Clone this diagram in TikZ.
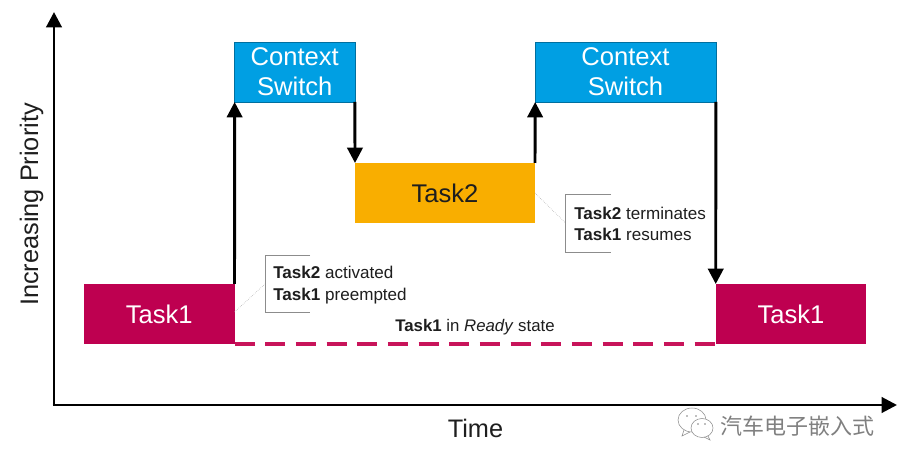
\documentclass[tikz,border=0pt]{standalone}
\usepackage{fontspec}
\setmainfont{Liberation Sans}
\newfontfamily\cjkwm{Noto Sans CJK SC}
\usetikzlibrary{arrows.meta}
\definecolor{taskred}{HTML}{BE0050}
\definecolor{dashred}{HTML}{C8145A}
\definecolor{switchblue}{HTML}{009FE3}
\definecolor{taskorange}{HTML}{F9AE00}
\definecolor{textdark}{HTML}{1E1E1E}
\tikzset{
  box/.style={fill=#1,minimum height=45pt,inner sep=0pt,outer sep=0pt,align=center,font=\fontsize{19.2}{22.5}\selectfont},
  taskbox/.style={box=taskred,text=white,minimum width=112.9pt},
  switchbox/.style={box=switchblue,text=white,draw=switchblue!70!black,line width=0.3pt},
  flow/.style={line width=2.2pt,-{Triangle[length=11.5pt,width=11.5pt]}},
  axis/.style={line width=2.2pt,-{Triangle[length=11.5pt,width=11.5pt]}},
  note/.style={font=\fontsize{12.8}{15.9}\selectfont,align=left,anchor=west,inner sep=0pt,text=textdark},
  bracket/.style={draw=black!45,line width=0.7pt},
  leader/.style={draw=black!35,line width=0.4pt,densely dotted},
  axislabel/.style={font=\fontsize{19}{22}\selectfont,text=textdark}
}
\begin{document}
\begin{tikzpicture}[x=0.75pt,y=-0.75pt]
\useasboundingbox (0,0) rectangle (903,466);
\fill[white] (0,0) rectangle (903,466);

% axes
\coordinate (origin) at (54,405);
\coordinate (ytip) at (54,12);
\coordinate (xtip) at (897,405);
\draw[axis] (origin) -- (ytip);
\draw[axis] ([xshift=-1pt]origin) -- (xtip);
\node[axislabel,rotate=90] (ylab) at (31.5,204.5) {Increasing Priority};
\node[axislabel] (xlab) at (475.5,428) {Time};

% activity boxes
\node[taskbox] (t1) at (159.25,314) {Task1};
\node[switchbox,minimum width=90.2pt] (cs1) at (294.75,72) {Context\\Switch};
\node[box=taskorange,text=textdark,minimum width=135pt] (t2) at (445,193) {Task2};
\node[switchbox,minimum width=135.5pt] (cs2) at (625.5,72) {Context\\Switch};
\node[taskbox] (t3) at (791,314) {Task1};

% transitions
\draw[flow] (t1.north east) -- (cs1.south west);
\draw[flow] (cs1.south east) -- (t2.north west);
\draw[flow] (t2.north east) -- (cs2.south west);
\draw[flow] (cs2.south east) -- (t3.north west);

% ready-state line
\draw[dashred,line width=2.3pt,dash pattern=on 15pt off 8pt] (t1.south east) -- (t3.south west);
\node[font=\fontsize{12.6}{14}\selectfont,text=textdark] (ready) at (475,327) {\textbf{Task1} in \textit{Ready} state};

% first annotation
\coordinate (n1a) at (310,255);
\coordinate (n1b) at (265,255);
\coordinate (n1c) at (265,312.5);
\coordinate (n1d) at (310,312.5);
\coordinate (n1m) at (265,284);
\draw[bracket] (n1a) -- (n1b) -- (n1c) -- (n1d);
\draw[leader] (t1.south east) ++(0,-32) -- (n1m);
\node[note] (note1) at (273,285) {\textbf{Task2} activated\\\textbf{Task1} preempted};

% second annotation
\coordinate (n2a) at (611,194.5);
\coordinate (n2b) at (565.5,194.5);
\coordinate (n2c) at (565.5,252);
\coordinate (n2d) at (611,252);
\coordinate (n2m) at (565.5,223);
\draw[bracket] (n2a) -- (n2b) -- (n2c) -- (n2d);
\draw[leader] (t2.north east) ++(0,30) -- (n2m);
\node[note] (note2) at (574,224) {\textbf{Task2} terminates\\\textbf{Task1} resumes};

% channel mark
\begin{scope}[draw=black!45,line width=0.4pt,fill=white]
  \filldraw (692,420) ellipse [x radius=14,y radius=12];
  \draw (684,430) -- (682,436) -- (690,432);
  \filldraw (702,428) ellipse [x radius=11,y radius=9.5];
  \draw (708,436) -- (710,440) -- (704,437);
  \fill[black!50] (687,416) circle (0.9) (696,416) circle (0.9) (698,424) circle (0.8) (705,424) circle (0.8);
\end{scope}
\node[font=\cjkwm\fontsize{16.5}{18}\selectfont,text=black!50] (mark) at (797,426) {汽车电子嵌入式};
\end{tikzpicture}
\end{document}
